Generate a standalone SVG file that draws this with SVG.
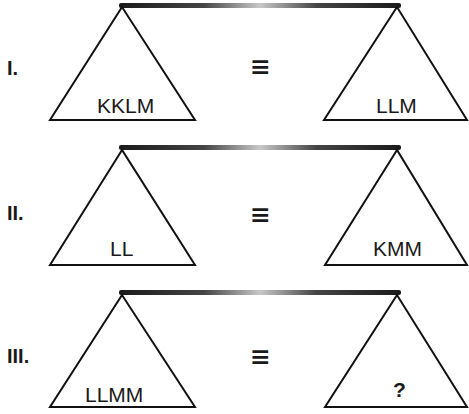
<svg xmlns="http://www.w3.org/2000/svg" width="469" height="414" viewBox="0 0 469 414">
<defs>
<linearGradient id="beam" x1="0" y1="0" x2="1" y2="0">
<stop offset="0" stop-color="#1a1a1a"/>
<stop offset="0.3" stop-color="#444"/>
<stop offset="0.5" stop-color="#c8c8c8"/>
<stop offset="0.7" stop-color="#444"/>
<stop offset="1" stop-color="#1a1a1a"/>
</linearGradient>
</defs>
<style>
.tri{fill:#fff;stroke:#111;stroke-width:2;stroke-linejoin:miter}
.beam{fill:url(#beam)}
.lbl{font-family:"Liberation Sans",Arial,sans-serif;font-size:21px;fill:#1a1a1a}
.num{font-family:"Liberation Sans",Arial,sans-serif;font-size:20px;font-weight:bold;fill:#1a1a1a}
.eq{font-family:"DejaVu Sans",sans-serif;font-size:25px;font-weight:bold;fill:#1a1a1a}
</style>
<rect width="469" height="414" fill="#fff"/>
<g id="row1">
<g id="beam1"><rect class="beam" x="119" y="3" width="282" height="5" rx="2"/></g>
<g id="left1"><polygon class="tri" points="122,7 50,120 195,120"/><text class="lbl" x="97" y="113">KKLM</text></g>
<g id="right1"><polygon class="tri" points="397,7 324,120 467,120"/><text class="lbl" x="376" y="113">LLM</text></g>
<text class="num" x="7" y="75">I.</text>
<text class="eq" x="250" y="75">≡</text>
</g>
<g id="row2">
<g id="beam2"><rect class="beam" x="119" y="145" width="282" height="5" rx="2"/></g>
<g id="left2"><polygon class="tri" points="122,150 50,265 195,265"/><text class="lbl" x="110" y="256">LL</text></g>
<g id="right2"><polygon class="tri" points="397,150 325,265 467,265"/><text class="lbl" x="373" y="256">KMM</text></g>
<text class="num" x="7" y="220">II.</text>
<text class="eq" x="250" y="223">≡</text>
</g>
<g id="row3">
<g id="beam3"><rect class="beam" x="119" y="290" width="282" height="5" rx="2"/></g>
<g id="left3"><polygon class="tri" points="122,295 50,407 195,407"/><text class="lbl" x="85" y="402">LLMM</text></g>
<g id="right3"><polygon class="tri" points="397,295 325,407 467,407"/><text class="lbl" x="393" y="397" font-weight="bold">?</text></g>
<text class="num" x="7" y="363">III.</text>
<text class="eq" x="250" y="365">≡</text>
</g>
</svg>
